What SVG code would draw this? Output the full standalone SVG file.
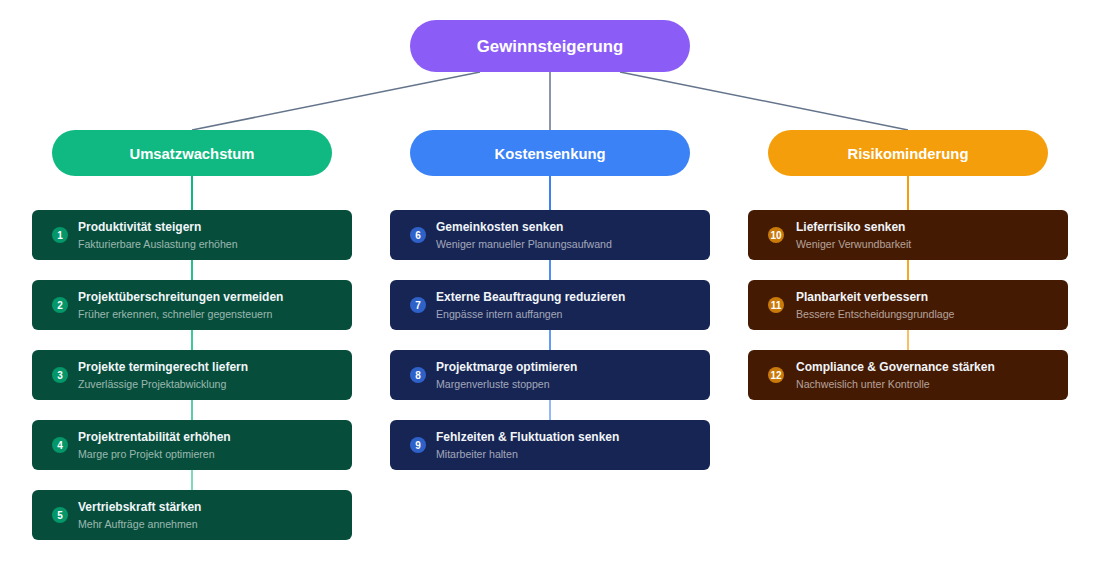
<svg xmlns="http://www.w3.org/2000/svg" width="1100" height="583" viewBox="0 0 1100 583">
<style>
text{font-family:"Liberation Sans",Arial,sans-serif}
.pill-t{font-weight:bold;fill:#fff;text-anchor:middle}
.card-t{font-weight:bold;font-size:12px;fill:#f1f5f9}
.card-s{font-size:10.6px;fill:#fff;fill-opacity:0.6}
.num{font-weight:bold;font-size:10px;fill:#fff;text-anchor:middle}
.g .card{fill:#064e3b}.g .badge{fill:#059669}
.b .card{fill:#172554}.b .badge{fill:#2f62c9}
.o .card{fill:#451a03}.o .badge{fill:#c97a0a}
.root-line{stroke:#64748b;stroke-width:1.5;fill:none}
</style>
<rect width="1100" height="583" fill="#fff"/>
<g id="connectors">
<line class="root-line" x1="480" y1="72" x2="192" y2="130"/>
<line class="root-line" x1="550" y1="72" x2="550" y2="130"/>
<line class="root-line" x1="620" y1="72" x2="908" y2="130"/>
<g stroke="#10b981" stroke-width="2">
<line x1="192" y1="176" x2="192" y2="210"/>
<line x1="192" y1="260" x2="192" y2="280" stroke-opacity="0.9"/>
<line x1="192" y1="330" x2="192" y2="350" stroke-opacity="0.8"/>
<line x1="192" y1="400" x2="192" y2="420" stroke-opacity="0.7"/>
<line x1="192" y1="470" x2="192" y2="490" stroke-opacity="0.55"/>
</g>
<g stroke="#3b82f6" stroke-width="2">
<line x1="550" y1="176" x2="550" y2="210"/>
<line x1="550" y1="260" x2="550" y2="280" stroke-opacity="0.9"/>
<line x1="550" y1="330" x2="550" y2="350" stroke-opacity="0.8"/>
<line x1="550" y1="400" x2="550" y2="420" stroke-opacity="0.55"/>
</g>
<g stroke="#f59e0b" stroke-width="2">
<line x1="908" y1="176" x2="908" y2="210"/>
<line x1="908" y1="260" x2="908" y2="280" stroke-opacity="0.9"/>
<line x1="908" y1="330" x2="908" y2="350" stroke-opacity="0.65"/>
</g>
</g>
<g id="root">
<rect x="410" y="20" width="280" height="52" rx="26" fill="#8b5cf6"/>
<text class="pill-t" x="550" y="52" font-size="16.8">Gewinnsteigerung</text>
</g>
<g id="cat-umsatz">
<rect x="52" y="130" width="280" height="46" rx="23" fill="#10b981"/>
<text class="pill-t" x="192" y="158.5" font-size="14.8">Umsatzwachstum</text>
</g>
<g id="cat-kosten">
<rect x="410" y="130" width="280" height="46" rx="23" fill="#3b82f6"/>
<text class="pill-t" x="550" y="158.5" font-size="14.8">Kostensenkung</text>
</g>
<g id="cat-risiko">
<rect x="768" y="130" width="280" height="46" rx="23" fill="#f59e0b"/>
<text class="pill-t" x="908" y="158.5" font-size="14.8">Risikominderung</text>
</g>
<g class="g">
<g id="item1"><rect class="card" x="32" y="210" width="320" height="50" rx="6"/><circle class="badge" cx="60" cy="235" r="8"/><text class="num" x="60" y="238.5">1</text><text class="card-t" x="78" y="231">Produktivität steigern</text><text class="card-s" x="78" y="247.5">Fakturierbare Auslastung erhöhen</text></g>
<g id="item2"><rect class="card" x="32" y="280" width="320" height="50" rx="6"/><circle class="badge" cx="60" cy="305" r="8"/><text class="num" x="60" y="308.5">2</text><text class="card-t" x="78" y="301">Projektüberschreitungen vermeiden</text><text class="card-s" x="78" y="317.5">Früher erkennen, schneller gegensteuern</text></g>
<g id="item3"><rect class="card" x="32" y="350" width="320" height="50" rx="6"/><circle class="badge" cx="60" cy="375" r="8"/><text class="num" x="60" y="378.5">3</text><text class="card-t" x="78" y="371">Projekte termingerecht liefern</text><text class="card-s" x="78" y="387.5">Zuverlässige Projektabwicklung</text></g>
<g id="item4"><rect class="card" x="32" y="420" width="320" height="50" rx="6"/><circle class="badge" cx="60" cy="445" r="8"/><text class="num" x="60" y="448.5">4</text><text class="card-t" x="78" y="441">Projektrentabilität erhöhen</text><text class="card-s" x="78" y="457.5">Marge pro Projekt optimieren</text></g>
<g id="item5"><rect class="card" x="32" y="490" width="320" height="50" rx="6"/><circle class="badge" cx="60" cy="515" r="8"/><text class="num" x="60" y="518.5">5</text><text class="card-t" x="78" y="511">Vertriebskraft stärken</text><text class="card-s" x="78" y="527.5">Mehr Aufträge annehmen</text></g>
</g>
<g class="b">
<g id="item6"><rect class="card" x="390" y="210" width="320" height="50" rx="6"/><circle class="badge" cx="418" cy="235" r="8"/><text class="num" x="418" y="238.5">6</text><text class="card-t" x="436" y="231">Gemeinkosten senken</text><text class="card-s" x="436" y="247.5">Weniger manueller Planungsaufwand</text></g>
<g id="item7"><rect class="card" x="390" y="280" width="320" height="50" rx="6"/><circle class="badge" cx="418" cy="305" r="8"/><text class="num" x="418" y="308.5">7</text><text class="card-t" x="436" y="301">Externe Beauftragung reduzieren</text><text class="card-s" x="436" y="317.5">Engpässe intern auffangen</text></g>
<g id="item8"><rect class="card" x="390" y="350" width="320" height="50" rx="6"/><circle class="badge" cx="418" cy="375" r="8"/><text class="num" x="418" y="378.5">8</text><text class="card-t" x="436" y="371">Projektmarge optimieren</text><text class="card-s" x="436" y="387.5">Margenverluste stoppen</text></g>
<g id="item9"><rect class="card" x="390" y="420" width="320" height="50" rx="6"/><circle class="badge" cx="418" cy="445" r="8"/><text class="num" x="418" y="448.5">9</text><text class="card-t" x="436" y="441">Fehlzeiten &amp; Fluktuation senken</text><text class="card-s" x="436" y="457.5">Mitarbeiter halten</text></g>
</g>
<g class="o">
<g id="item10"><rect class="card" x="748" y="210" width="320" height="50" rx="6"/><circle class="badge" cx="776" cy="235" r="8"/><text class="num" x="776" y="238.5">10</text><text class="card-t" x="796" y="231">Lieferrisiko senken</text><text class="card-s" x="796" y="247.5">Weniger Verwundbarkeit</text></g>
<g id="item11"><rect class="card" x="748" y="280" width="320" height="50" rx="6"/><circle class="badge" cx="776" cy="305" r="8"/><text class="num" x="776" y="308.5">11</text><text class="card-t" x="796" y="301">Planbarkeit verbessern</text><text class="card-s" x="796" y="317.5">Bessere Entscheidungsgrundlage</text></g>
<g id="item12"><rect class="card" x="748" y="350" width="320" height="50" rx="6"/><circle class="badge" cx="776" cy="375" r="8"/><text class="num" x="776" y="378.5">12</text><text class="card-t" x="796" y="371">Compliance &amp; Governance stärken</text><text class="card-s" x="796" y="387.5">Nachweislich unter Kontrolle</text></g>
</g>
</svg>
